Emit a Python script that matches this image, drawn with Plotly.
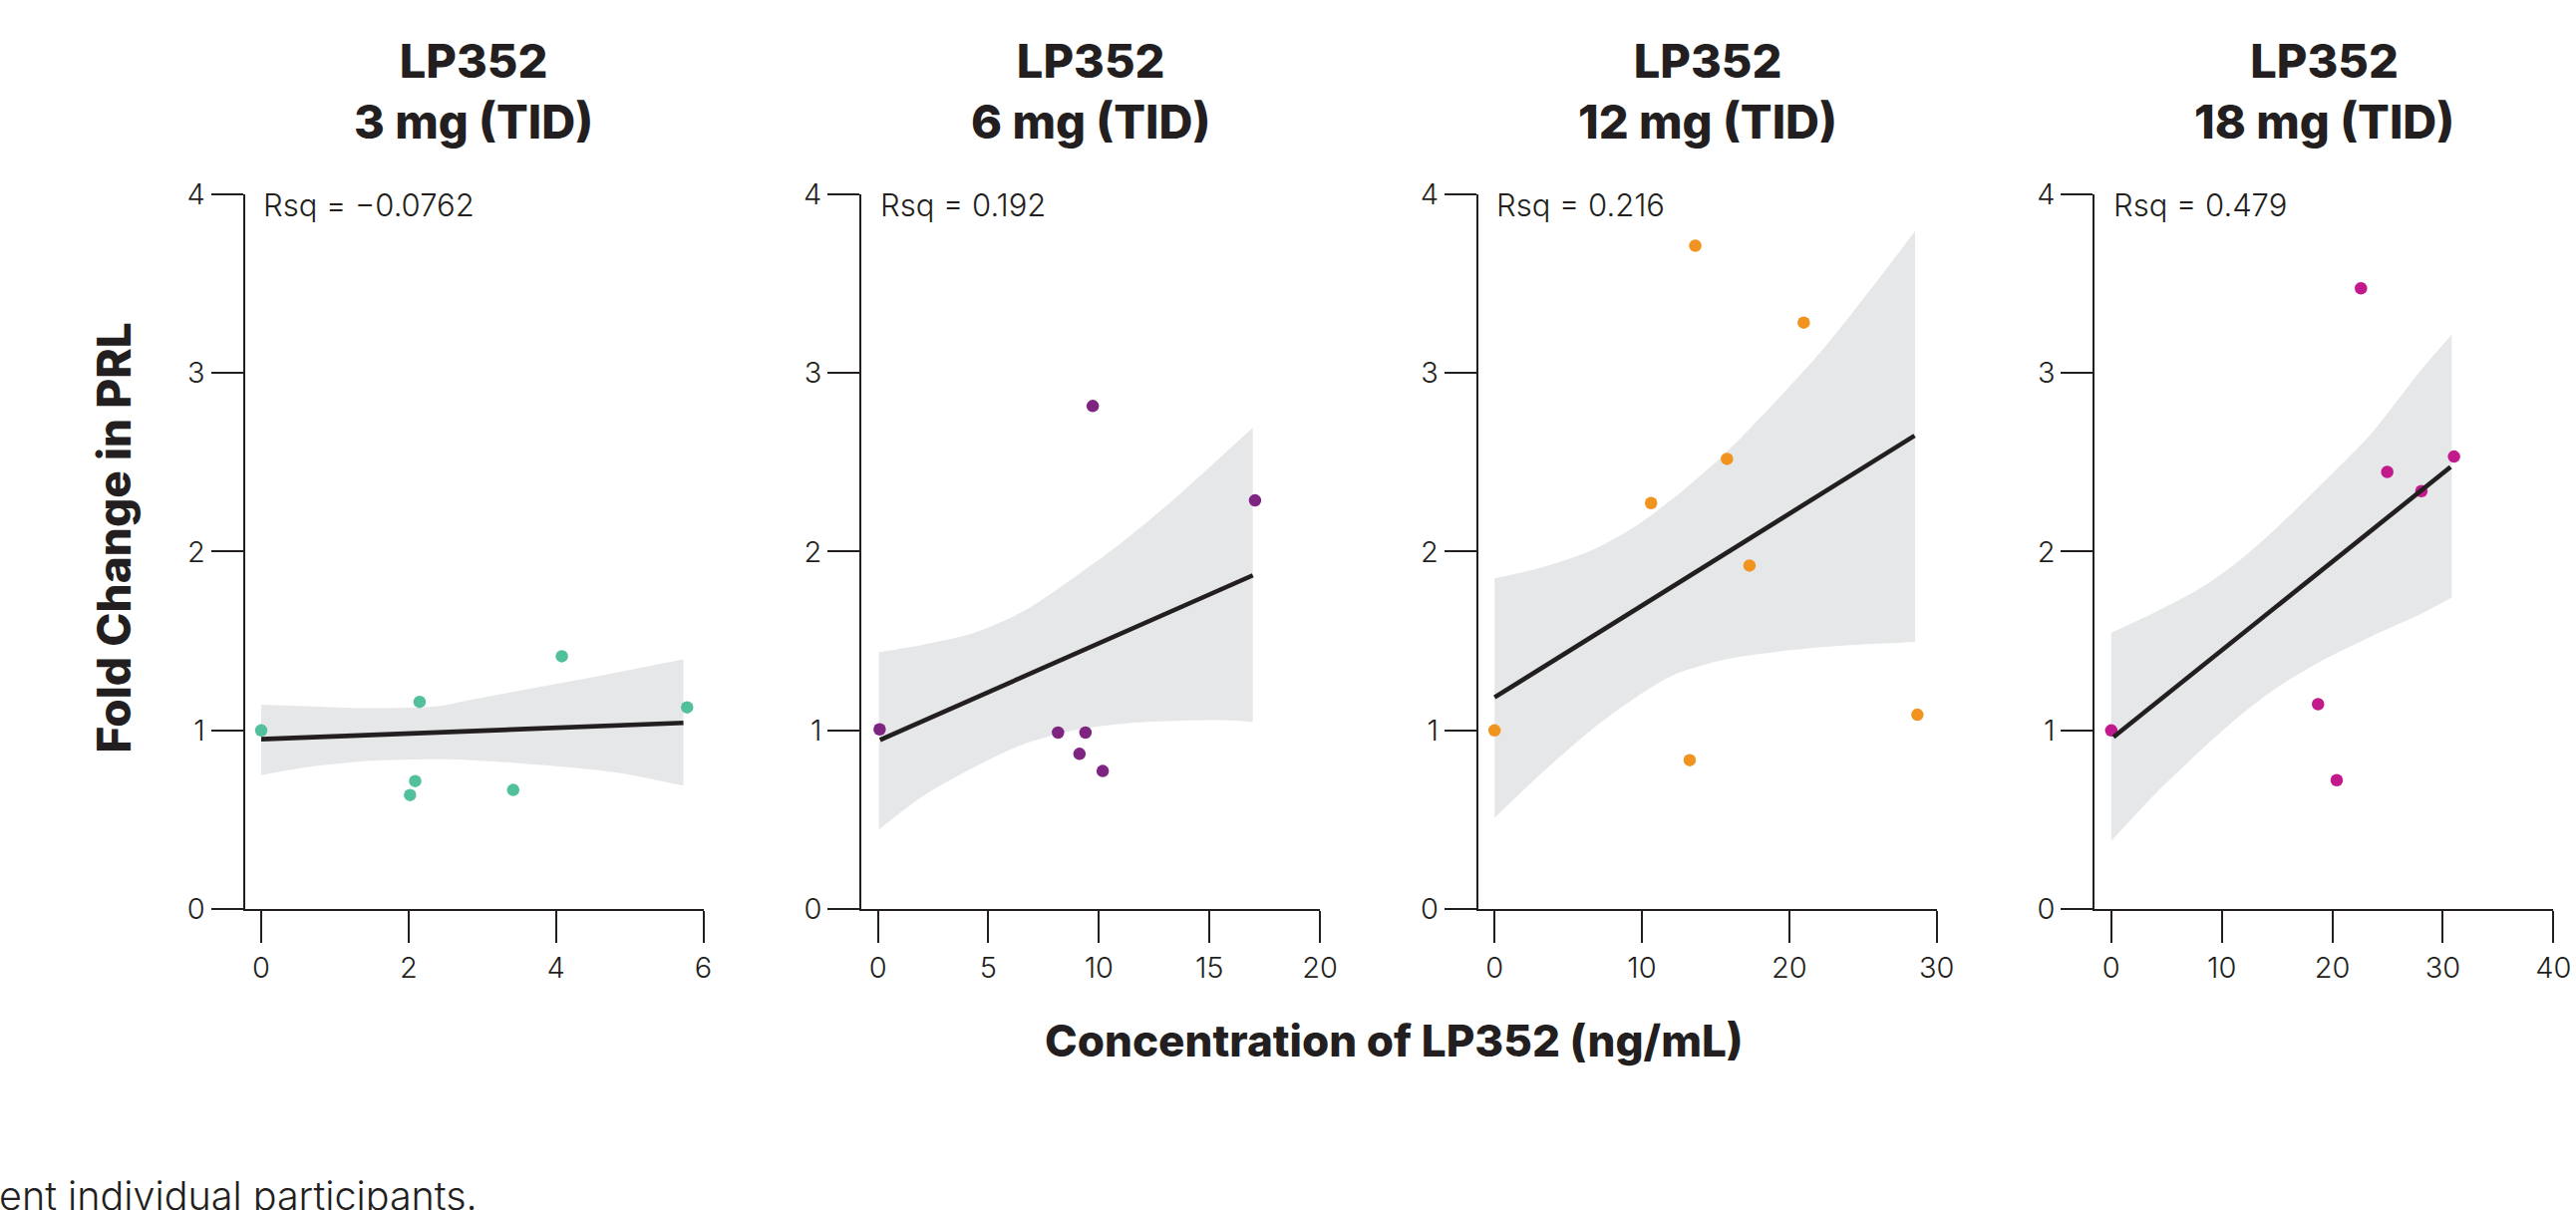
import plotly.graph_objects as go

W, H = 2584, 1214

# ---------------- data ----------------
panel_titles = ["LP352<br>3 mg (TID)", "LP352<br>6 mg (TID)",
                "LP352<br>12 mg (TID)", "LP352<br>18 mg (TID)"]
rsq_labels = ["Rsq = \u22120.0762", "Rsq = 0.192", "Rsq = 0.216", "Rsq = 0.479"]
x_tick_vals = [[0, 2, 4, 6], [0, 5, 10, 15, 20], [0, 10, 20, 30], [0, 10, 20, 30, 40]]
y_tick_vals = [0, 1, 2, 3, 4]
x_title = "Concentration of LP352 (ng/mL)"
y_title = "Fold Change in PRL"
footnote = "ent individual participants."

# 3 mg
conc_3 = [0, 2.15, 2.09, 2.02, 3.42, 4.08, 5.78]
fold_3 = [1.0, 1.16, 0.717, 0.639, 0.667, 1.415, 1.129]
fit_x_3 = [0, 5.73]
fit_y_3 = [0.951, 1.042]
band_x_3 = [0, 0.6, 1.5, 2.4, 2.85, 3.5, 4.2, 4.9, 5.73]
band_hi_3 = [1.144, 1.136, 1.124, 1.135, 1.172, 1.222, 1.275, 1.330, 1.397]
band_lo_3 = [0.750, 0.793, 0.830, 0.839, 0.834, 0.817, 0.793, 0.760, 0.691]

# 6 mg
conc_6 = [0.08, 9.72, 17.06, 8.15, 9.39, 9.12, 10.17]
fold_6 = [1.006, 2.814, 2.286, 0.988, 0.988, 0.869, 0.773]
fit_x_6 = [0.1, 16.96]
fit_y_6 = [0.947, 1.867]
band_x_6 = [0.05, 2.07, 4.33, 6.58, 8.84, 11.09, 13.35, 15.6, 16.96]
band_hi_6 = [1.438, 1.48, 1.545, 1.666, 1.852, 2.056, 2.288, 2.539, 2.693]
band_lo_6 = [0.446, 0.635, 0.793, 0.923, 1.001, 1.038, 1.053, 1.057, 1.048]

# 12 mg
conc_12 = [0, 13.62, 20.98, 15.77, 10.62, 17.30, 13.24, 28.69]
fold_12 = [1.0, 3.71, 3.28, 2.518, 2.271, 1.922, 0.834, 1.088]
fit_x_12 = [0, 28.5]
fit_y_12 = [1.185, 2.648]
band_x_12 = [0, 3.19, 6.58, 9.51, 12.22, 15.61, 19.0, 22.38, 25.77, 28.53]
band_hi_12 = [1.850, 1.911, 2.006, 2.139, 2.304, 2.546, 2.833, 3.141, 3.493, 3.791]
band_lo_12 = [0.512, 0.761, 1.004, 1.180, 1.312, 1.396, 1.438, 1.467, 1.484, 1.495]

# 18 mg
conc_18 = [0, 22.59, 31.01, 24.97, 28.06, 18.71, 20.40]
fold_18 = [1.0, 3.472, 2.531, 2.445, 2.338, 1.147, 0.722]
fit_x_18 = [0.2, 30.7]
fit_y_18 = [0.963, 2.473]
band_x_18 = [0, 3.96, 7.86, 11.47, 14.78, 18.98, 23.49, 28.0, 30.8]
band_hi_18 = [1.546, 1.661, 1.787, 1.944, 2.122, 2.374, 2.657, 3.013, 3.213]
band_lo_18 = [0.382, 0.644, 0.875, 1.074, 1.231, 1.388, 1.525, 1.651, 1.743]

point_colors = ["#52BF9D", "#7E2481", "#F0931F", "#C2198D"]

panels = [
    (conc_3, fold_3, fit_x_3, fit_y_3, band_x_3, band_hi_3, band_lo_3),
    (conc_6, fold_6, fit_x_6, fit_y_6, band_x_6, band_hi_6, band_lo_6),
    (conc_12, fold_12, fit_x_12, fit_y_12, band_x_12, band_hi_12, band_lo_12),
    (conc_18, fold_18, fit_x_18, fit_y_18, band_x_18, band_hi_18, band_lo_18),
]

# ---------------- styling / layout ----------------
INK = "#231F20"
BAND = "#E6E7E8"
FONT = "Inter"

panel_left_px = [245.5, 864.1, 1482.7, 2101.3]
panel_w_px = 460.0
zero_off_px = 16.5
y_dom = [1 - 912.3 / H, 1 - 194.5 / H]

fig = go.Figure()

for i, (cx, fy, fx_, fy_, bx, bhi, blo) in enumerate(panels):
    n = i + 1
    xa = "x" if n == 1 else f"x{n}"
    ya = "y" if n == 1 else f"y{n}"
    # confidence band: lower edge, then upper edge filled down to it
    fig.add_trace(go.Scatter(
        x=bx, y=blo, mode="lines", line=dict(width=0, color=BAND, shape="spline", smoothing=0.8),
        hoverinfo="skip", showlegend=False, xaxis=xa, yaxis=ya))
    fig.add_trace(go.Scatter(
        x=bx, y=bhi, mode="lines", fill="tonexty", fillcolor=BAND,
        line=dict(width=0, color=BAND, shape="spline", smoothing=0.8),
        hoverinfo="skip", showlegend=False, xaxis=xa, yaxis=ya))
    # participants
    fig.add_trace(go.Scatter(
        x=cx, y=fy, mode="markers",
        marker=dict(size=12.5, color=point_colors[i], line=dict(width=0)),
        showlegend=False, xaxis=xa, yaxis=ya))
    # fitted line
    fig.add_trace(go.Scatter(
        x=fx_, y=fy_, mode="lines", line=dict(color=INK, width=4.6),
        showlegend=False, xaxis=xa, yaxis=ya))

    xmax = x_tick_vals[i][-1]
    xmin = -xmax * zero_off_px / (panel_w_px - zero_off_px)
    left = panel_left_px[i] / W
    right = (panel_left_px[i] + panel_w_px) / W
    axis_common = dict(
        showline=True, linecolor=INK, linewidth=2,
        ticks="outside", ticklen=32, tickwidth=2, tickcolor=INK,
        showgrid=False, zeroline=False, automargin=False,
        tickfont=dict(family=FONT, size=29, color=INK, weight=300),
        tickmode="array",
    )
    fig.layout[f"xaxis{n}" if n > 1 else "xaxis"] = dict(
        axis_common, domain=[left, right], range=[xmin, xmax],
        tickvals=x_tick_vals[i], anchor=ya)
    fig.layout[f"yaxis{n}" if n > 1 else "yaxis"] = dict(
        axis_common, domain=y_dom, range=[0, 4],
        tickvals=y_tick_vals, anchor=xa)

    # panel title
    fig.add_annotation(
        text=panel_titles[i], xref="paper", yref="paper",
        x=(left + right) / 2, y=1 - 91 / H, xanchor="center", yanchor="middle",
        showarrow=False, font=dict(family=FONT, size=47, color=INK, weight=800),
        align="center")
    # Rsq label
    fig.add_annotation(
        text=rsq_labels[i], xref=xa, yref=ya, x=0, y=4,
        xanchor="left", yanchor="top", yshift=9, showarrow=False,
        font=dict(family=FONT, size=31, color=INK, weight=300))

# axis titles
fig.add_annotation(
    text=x_title, xref="paper", yref="paper",
    x=1398 / W, y=1 - 1044 / H, xanchor="center", yanchor="middle",
    showarrow=False, font=dict(family=FONT, size=44, color=INK, weight=800))
fig.add_annotation(
    text=y_title, xref="paper", yref="paper",
    x=113.5 / W, y=1 - 540 / H, xanchor="center", yanchor="middle",
    textangle=-90, showarrow=False, font=dict(family=FONT, size=46, color=INK, weight=800))
# footnote (cut by the page edge in the reference)
fig.add_annotation(
    text=footnote, xref="paper", yref="paper",
    x=-3 / W, y=1 - 1226 / H, xanchor="left", yanchor="bottom",
    showarrow=False, font=dict(family=FONT, size=39.5, color=INK, weight=300))

fig.update_layout(
    width=W, height=H, margin=dict(l=0, r=0, t=0, b=0, pad=0, autoexpand=False),
    paper_bgcolor="white", plot_bgcolor="white", showlegend=False,
    font=dict(family=FONT, color=INK),
)

fig.write_html(
    "out.html",
    config={"displayModeBar": False},
    post_script="document.body.style.margin='0px';document.body.style.overflow='hidden';",
)
